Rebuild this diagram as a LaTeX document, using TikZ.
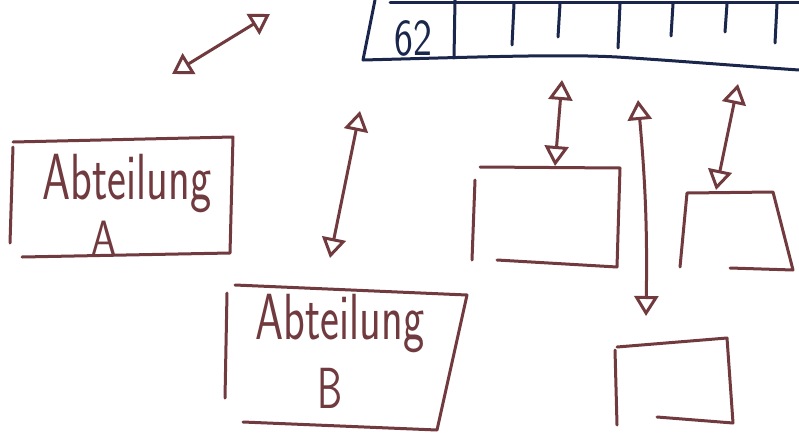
\documentclass[tikz,border=0pt]{standalone}
\usepackage{tikz}
\usetikzlibrary{arrows.meta}
\definecolor{pen}{RGB}{112,58,62}
\definecolor{ink}{RGB}{26,38,76}

\begin{document}
\begin{tikzpicture}[line cap=round,line join=round,>={Triangle[open,length=20pt,width=24pt]},x=1pt,y=-1pt]
\tikzset{stroke/.style={draw=pen,line width=3pt},
  tablestroke/.style={draw=ink,line width=3pt},
  hand/.style={text=pen,font=\sffamily\fontsize{45}{47}\selectfont,yscale=1.45,inner sep=0pt},
  letter/.style={hand,font=\sffamily\fontsize{40}{42}\selectfont},
  conn/.style={stroke,<->}}
\useasboundingbox (0,0) rectangle (799,439);
% table at the top
\draw[tablestroke] (375,0)--(363,60) .. controls (480,57) and (560,54) .. (617,57) .. controls (680,61) and (740,66) .. (799,70);
\draw[tablestroke] (390,2)--(799,2);
\draw[tablestroke] (455,0)--(454,58);
\foreach \x/\b in {514/45,560/37,620/48,673/36,727/32,777/43}
  \draw[tablestroke] (\x,4)--(\x-2,\b);
\node[text=ink,font=\sffamily\fontsize{40}{42}\selectfont,inner sep=0pt,yscale=1.3] (nr) at (413,38) {62};
% Abteilung A
\draw[stroke] (13,142)--(233,137)--(230,253)--(22,257);
\draw[stroke] (13,147)--(10,243);
\node[hand] (abtA) at (127,184) {Abteilung};
\node[letter,yscale=0.83] (letA) at (104,238) {A};
% Abteilung B
\draw[stroke] (235,285)--(467,295)--(437,430)--(243,422);
\draw[stroke] (227,293)--(225,398);
\node[hand] (abtB) at (340,324) {Abteilung};
\node[letter] (letB) at (330,388) {B};
% empty boxes
\draw[stroke] (480,167)--(620,168)--(617,267)--(497,260);
\draw[stroke] (475,180)--(472,260);
\draw[stroke] (680,267)--(687,193)--(773,192)--(793,270)--(730,268);
\draw[stroke] (617,347)--(727,338)--(733,423)--(657,417);
\draw[stroke] (615,350)--(617,425);
% arrow ends
\coordinate (p1) at (172,74);
\coordinate (q1) at (270,14);
\coordinate (p2) at (330,258);
\coordinate (q2) at (360,111);
\coordinate (p3) at (555,166);
\coordinate (q3) at (562,80);
\coordinate (p4) at (646,316);
\coordinate (q4) at (638,100);
\coordinate (p5) at (716,190);
\coordinate (q5) at (738,84);
\draw[conn] (p1)--(q1);
\draw[conn] (p2)--(q2);
\draw[conn] (p3)--(q3);
\draw[conn] (p4) to[bend right=3] (q4);
\draw[conn] (p5)--(q5);
\end{tikzpicture}
\end{document}
